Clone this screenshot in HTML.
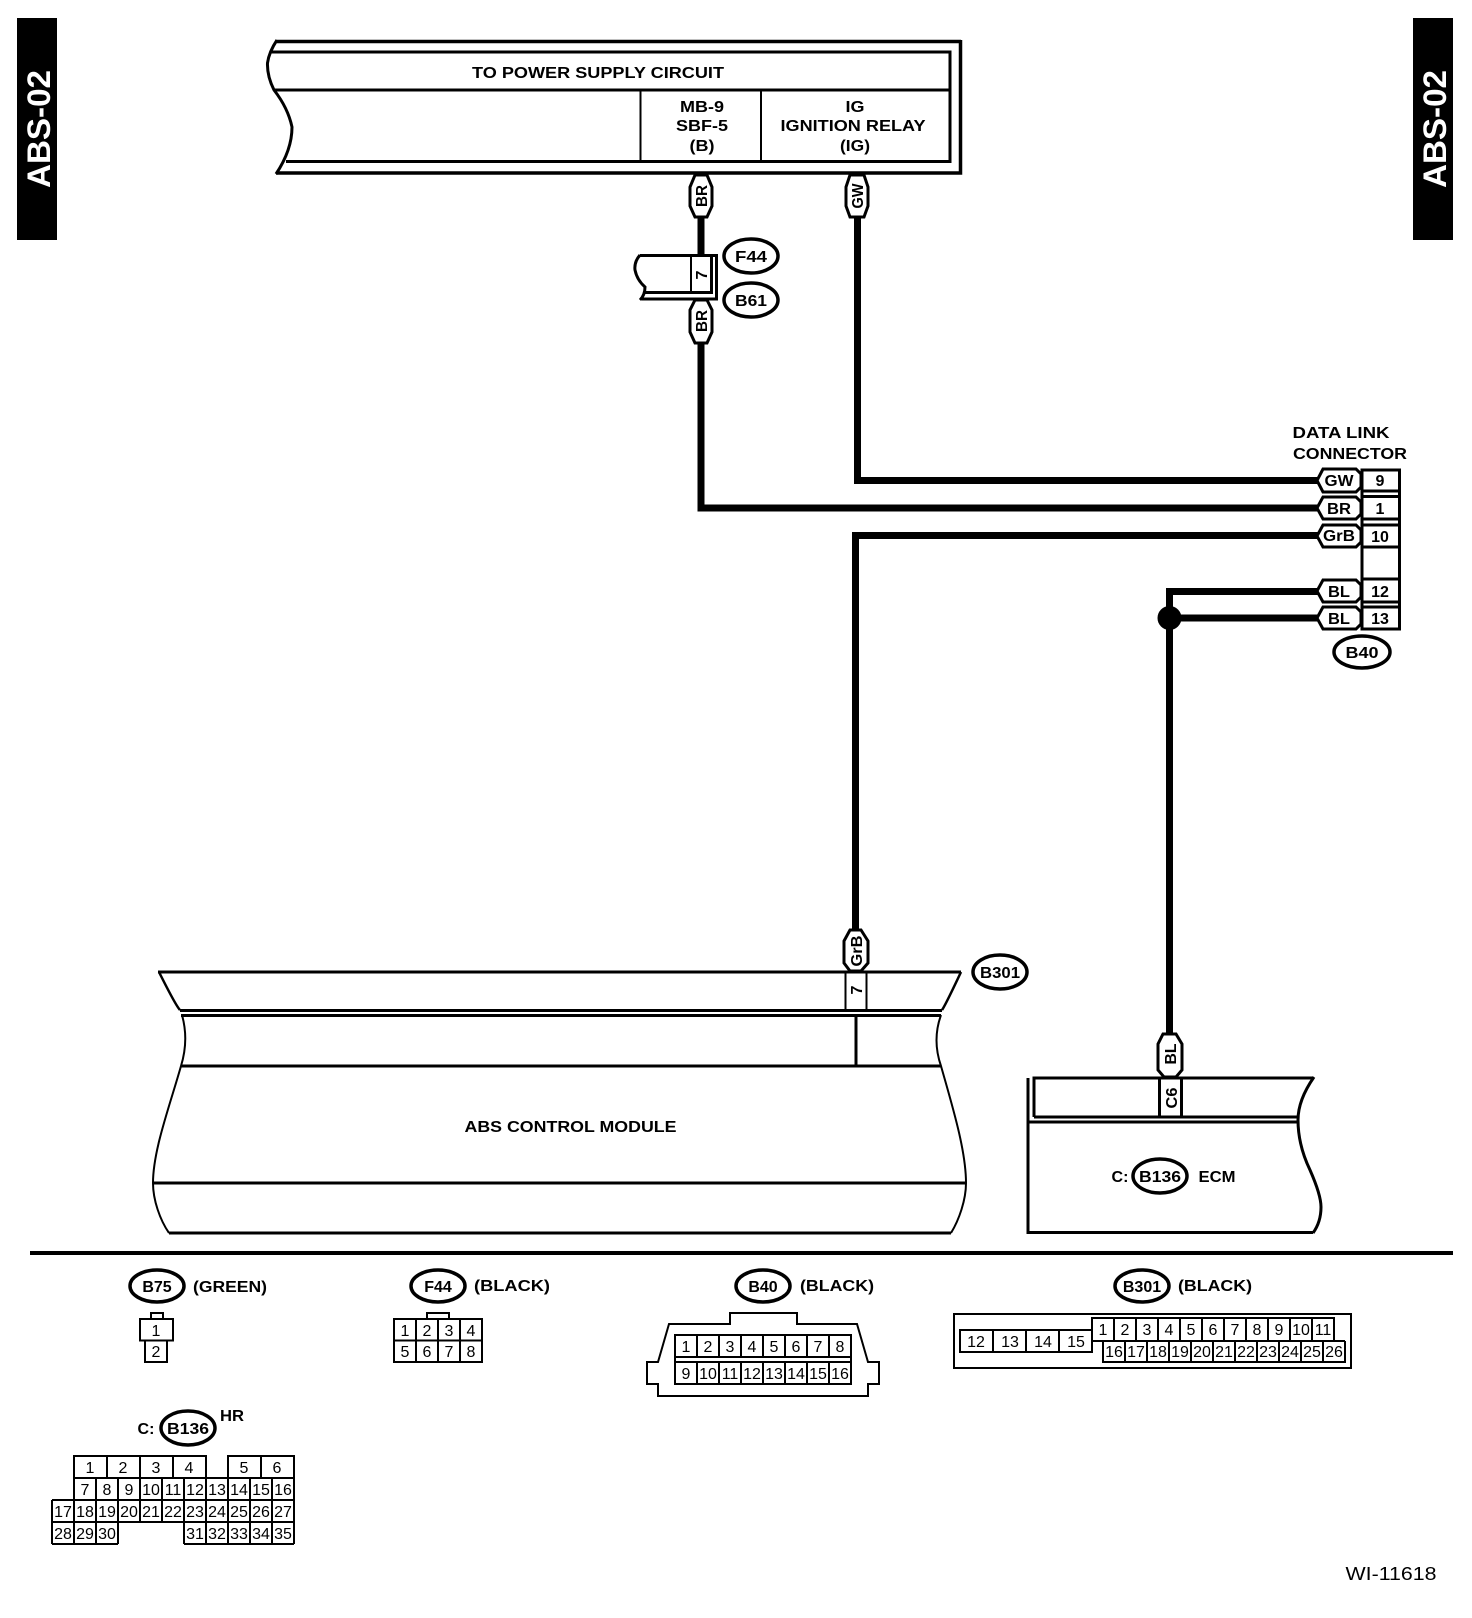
<!DOCTYPE html>
<html><head><meta charset="utf-8"><style>
html,body{margin:0;padding:0;background:#fff}
svg{display:block}
text{font-family:"Liberation Sans",sans-serif;fill:#000;text-anchor:middle}
.b{font-weight:bold;font-size:16px}
.n{font-size:16px}
.s{font-weight:bold;font-size:16px}
.l{fill:none;stroke:#000;stroke-width:3}
.w{fill:none;stroke:#000;stroke-width:7}
.t{fill:none;stroke:#000;stroke-width:2}
.p{fill:#fff;stroke:#000;stroke-width:3}
.o{fill:#fff;stroke:#000;stroke-width:3.5}
</style></head><body>
<svg width="1472" height="1618" viewBox="0 0 1472 1618" xmlns="http://www.w3.org/2000/svg">
<rect width="1472" height="1618" fill="#fff"/>
<rect x="17" y="18" width="40" height="222" fill="#000"/>
<rect x="1413" y="18" width="40" height="222" fill="#000"/>
<text transform="translate(50,129) rotate(-90)" font-size="32" font-weight="bold" style="fill:#fff" textLength="118" lengthAdjust="spacingAndGlyphs">ABS-02</text>
<text transform="translate(1446,129) rotate(-90)" font-size="32" font-weight="bold" style="fill:#fff" textLength="118" lengthAdjust="spacingAndGlyphs">ABS-02</text>

<!-- top box -->
<path class="l" d="M961 41.500H277" style="stroke-width:3.5"/>
<path class="l" d="M960.500 40V173H276" style="stroke-width:3.5"/>
<path class="l" d="M277 40Q269 52 267.500 63Q267 76 274 90Q288 108 292 127Q292 150 276 174"/>
<path class="l" d="M271 52H950V161.500H286"/>
<path class="l" d="M274 90H950"/>
<path class="t" d="M640.500 90V161M761 90V161"/>
<text class="b" x="598" y="78" textLength="252" lengthAdjust="spacingAndGlyphs">TO POWER SUPPLY CIRCUIT</text>
<text class="b" x="702" y="112" textLength="44" lengthAdjust="spacingAndGlyphs">MB-9</text>
<text class="b" x="702" y="131" textLength="52" lengthAdjust="spacingAndGlyphs">SBF-5</text>
<text class="b" x="702" y="151" textLength="25" lengthAdjust="spacingAndGlyphs">(B)</text>
<text class="b" x="855" y="112" textLength="19" lengthAdjust="spacingAndGlyphs">IG</text>
<text class="b" x="853" y="131" textLength="145" lengthAdjust="spacingAndGlyphs">IGNITION RELAY</text>
<text class="b" x="855" y="151" textLength="30" lengthAdjust="spacingAndGlyphs">(IG)</text>

<!-- wires -->
<path class="w" d="M701 218V256"/>
<path class="w" d="M701 342V508H1320"/>
<path class="w" d="M857.500 218V480.500H1320"/>
<path class="w" d="M855.500 932V535.500H1320"/>
<path class="w" d="M1320 591.500H1169.500V1036"/>
<path class="w" d="M1169.500 618H1320"/>
<circle cx="1169.500" cy="618" r="12" fill="#000"/>

<!-- vertical pills -->
<path class="p" d="M695 175H707L712 187V206L707 217H695L690 206V187Z"/>
<text class="s" transform="translate(701,196) rotate(-90)" y="6" textLength="22" lengthAdjust="spacingAndGlyphs">BR</text>
<path class="p" d="M850 175H864L868 187V206L864 217H850L846 206V187Z"/>
<text class="s" transform="translate(857,196) rotate(-90)" y="6" textLength="25" lengthAdjust="spacingAndGlyphs">GW</text>

<!-- F44/B61 connector -->
<path class="l" d="M640 255.500H716.500V299H642"/>
<path class="l" d="M640 255Q634 262 635 270Q637 280 645 287Q645 295 640 300"/>
<path class="l" d="M645 292.500H711.500V255"/>
<path class="t" d="M691 256V293"/>
<text class="s" transform="translate(701,275) rotate(-90)" y="6">7</text>
<path class="p" d="M695 300H707L712 310V332L707 343H695L690 332V310Z"/>
<text class="s" transform="translate(701,321) rotate(-90)" y="6" textLength="22" lengthAdjust="spacingAndGlyphs">BR</text>
<ellipse class="o" cx="751" cy="256" rx="27" ry="17"/>
<text class="b" x="751" y="262" textLength="32" lengthAdjust="spacingAndGlyphs">F44</text>
<ellipse class="o" cx="751" cy="300" rx="27" ry="17"/>
<text class="b" x="751" y="306" textLength="32" lengthAdjust="spacingAndGlyphs">B61</text>

<!-- DLC -->
<text class="b" x="1341" y="438" textLength="97" lengthAdjust="spacingAndGlyphs">DATA LINK</text>
<text class="b" x="1350" y="459" textLength="114" lengthAdjust="spacingAndGlyphs">CONNECTOR</text>
<path class="l" d="M1362 470H1399.500V629H1362Z"/>
<path class="l" d="M1362 491H1400M1362 496.500H1400M1362 519H1400M1362 525H1400M1362 547H1400M1362 579H1400M1362 602H1400M1362 607H1400"/>
<path class="p" d="M1323 469H1356L1361 474V487L1356 492H1323L1317 480.500Z"/>
<path class="p" d="M1323 497H1356L1361 502V514L1356 519H1323L1317 508Z"/>
<path class="p" d="M1323 525H1356L1361 530V542L1356 547H1323L1317 536Z"/>
<path class="p" d="M1323 580H1356L1361 585V597L1356 602H1323L1317 591Z"/>
<path class="p" d="M1323 607H1356L1361 612V624L1356 629H1323L1317 618Z"/>
<text class="s" x="1339" y="486" textLength="29" lengthAdjust="spacingAndGlyphs">GW</text>
<text class="s" x="1339" y="514" textLength="24" lengthAdjust="spacingAndGlyphs">BR</text>
<text class="s" x="1339" y="541" textLength="32" lengthAdjust="spacingAndGlyphs">GrB</text>
<text class="s" x="1339" y="597" textLength="22" lengthAdjust="spacingAndGlyphs">BL</text>
<text class="s" x="1339" y="624" textLength="22" lengthAdjust="spacingAndGlyphs">BL</text>
<text class="b" x="1380" y="486">9</text>
<text class="b" x="1380" y="514">1</text>
<text class="b" x="1380" y="542">10</text>
<text class="b" x="1380" y="597">12</text>
<text class="b" x="1380" y="624">13</text>
<ellipse class="o" cx="1362" cy="652" rx="28" ry="16"/>
<text class="b" x="1362" y="658" textLength="33" lengthAdjust="spacingAndGlyphs">B40</text>

<!-- ABS module -->
<path class="p" d="M850 930H861L868 941V963L861 971H850L844 963V941Z"/>
<text class="s" transform="translate(856,951) rotate(-90)" y="6" textLength="31" lengthAdjust="spacingAndGlyphs">GrB</text>
<path class="l" d="M158 972H961"/>
<path class="l" d="M180 1010.500H942M181 1015.500H941"/>
<path class="l" d="M159 972Q176 1006 180 1010M961 972Q945 1006 942 1010" style="stroke-width:2.5"/>
<path class="l" d="M181 1066H941M153 1183H966"/>
<path class="l" d="M169 1233H951" />
<path class="t" d="M845.500 972V1010M866.500 972V1010"/>
<path class="l" d="M856 1015V1066"/>
<text class="s" transform="translate(856,990) rotate(-90)" y="6">7</text>
<path class="t" d="M182 1015Q189 1040 181 1066C170 1105 153 1150 153 1183C153 1200 160 1220 169 1233"/>
<path class="t" d="M941 1015Q932 1040 941 1066C952 1105 966 1150 966 1183C966 1200 959 1220 951 1233"/>
<text class="b" x="570.500" y="1132" textLength="212" lengthAdjust="spacingAndGlyphs">ABS CONTROL MODULE</text>
<ellipse class="o" cx="1000" cy="972" rx="27" ry="17"/>
<text class="b" x="1000" y="978" textLength="40" lengthAdjust="spacingAndGlyphs">B301</text>

<!-- ECM -->
<path class="p" d="M1163 1034H1176L1182 1044V1070L1176 1077H1164L1158 1070V1044Z"/>
<text class="s" transform="translate(1170,1054) rotate(-90)" y="6" textLength="21" lengthAdjust="spacingAndGlyphs">BL</text>
<path class="l" d="M1034 1117V1078H1313"/>
<path class="l" d="M1034 1117H1298M1028 1122H1298"/>
<path class="l" d="M1159.500 1078V1117M1181.500 1078V1117"/>
<text class="s" transform="translate(1171,1098) rotate(-90)" y="6" textLength="21" lengthAdjust="spacingAndGlyphs">C6</text>
<path class="l" d="M1028 1078V1232.500H1313"/>
<path class="l" d="M1314 1077Q1298 1100 1298 1120Q1298 1145 1310 1170Q1321 1195 1321 1207Q1321 1222 1313 1233"/>
<text class="b" x="1120" y="1182">C:</text>
<ellipse class="o" cx="1160" cy="1176" rx="27" ry="17"/>
<text class="b" x="1160" y="1182" textLength="42" lengthAdjust="spacingAndGlyphs">B136</text>
<text class="b" x="1217" y="1182" textLength="37" lengthAdjust="spacingAndGlyphs">ECM</text>

<rect x="30" y="1251" width="1423" height="4" fill="#000"/>

<!-- B75 -->
<ellipse class="o" cx="157" cy="1286" rx="27" ry="16"/>
<text class="b" x="157" y="1292">B75</text>
<text class="b" x="230" y="1292" textLength="74" lengthAdjust="spacingAndGlyphs">(GREEN)</text>
<path class="t" d="M151 1319V1313H163V1319"/>
<rect class="t" x="140" y="1319" width="33" height="21.500"/>
<rect class="t" x="145" y="1340.500" width="22" height="21.500"/>
<text class="n" x="156" y="1336">1</text><text class="n" x="156" y="1357">2</text>

<!-- F44 -->
<ellipse class="o" cx="438" cy="1286" rx="27" ry="16"/>
<text class="b" x="438" y="1292">F44</text>
<text class="b" x="512" y="1291" textLength="76" lengthAdjust="spacingAndGlyphs">(BLACK)</text>
<path class="t" d="M427 1319V1313H449V1319"/>
<path class="t" d="M394 1319H482V1362H394ZM394 1340.500H482M416 1319V1362M438 1319V1362M460 1319V1362"/>
<text class="n" x="405" y="1336">1</text><text class="n" x="427" y="1336">2</text><text class="n" x="449" y="1336">3</text><text class="n" x="471" y="1336">4</text>
<text class="n" x="405" y="1357">5</text><text class="n" x="427" y="1357">6</text><text class="n" x="449" y="1357">7</text><text class="n" x="471" y="1357">8</text>

<!-- B40 -->
<ellipse class="o" cx="763" cy="1286" rx="27" ry="16"/>
<text class="b" x="763" y="1292">B40</text>
<text class="b" x="837" y="1291" textLength="74" lengthAdjust="spacingAndGlyphs">(BLACK)</text>
<path class="t" d="M730 1313H797V1324H857L868 1362H879V1384H868V1396H658V1384H647V1362H658L669 1324H730Z"/>
<path class="t" d="M675 1335H851V1384H675ZM675 1357H851M675 1362H851"/>
<path class="t" d="M697 1335V1357M719 1335V1357M741 1335V1357M763 1335V1357M785 1335V1357M807 1335V1357M829 1335V1357M697 1362V1384M719 1362V1384M741 1362V1384M763 1362V1384M785 1362V1384M807 1362V1384M829 1362V1384"/>
<text class="n" x="686" y="1352">1</text><text class="n" x="708" y="1352">2</text><text class="n" x="730" y="1352">3</text><text class="n" x="752" y="1352">4</text><text class="n" x="774" y="1352">5</text><text class="n" x="796" y="1352">6</text><text class="n" x="818" y="1352">7</text><text class="n" x="840" y="1352">8</text>
<text class="n" x="686" y="1379">9</text><text class="n" x="708" y="1379">10</text><text class="n" x="730" y="1379">11</text><text class="n" x="752" y="1379">12</text><text class="n" x="774" y="1379">13</text><text class="n" x="796" y="1379">14</text><text class="n" x="818" y="1379">15</text><text class="n" x="840" y="1379">16</text>

<!-- B301 -->
<ellipse class="o" cx="1142" cy="1286" rx="27" ry="16"/>
<text class="b" x="1142" y="1292">B301</text>
<text class="b" x="1215" y="1291" textLength="74" lengthAdjust="spacingAndGlyphs">(BLACK)</text>
<rect class="t" x="954" y="1314" width="397" height="54"/>
<rect x="960" y="1330" width="132" height="22" class="t"/>
<path class="t" d="M993 1330V1352M1026 1330V1352M1059 1330V1352"/>
<text class="n" x="976" y="1347">12</text><text class="n" x="1010" y="1347">13</text><text class="n" x="1043" y="1347">14</text><text class="n" x="1076" y="1347">15</text>
<path class="t" d="M1092 1341V1318H1334V1341M1092 1341H1345M1114 1318V1341M1136 1318V1341M1158 1318V1341M1180 1318V1341M1202 1318V1341M1224 1318V1341M1246 1318V1341M1268 1318V1341M1290 1318V1341M1312 1318V1341"/>
<path class="t" d="M1103 1341V1362H1345V1341M1125 1341V1362M1147 1341V1362M1169 1341V1362M1191 1341V1362M1213 1341V1362M1235 1341V1362M1257 1341V1362M1279 1341V1362M1301 1341V1362M1323 1341V1362"/>
<text class="n" x="1103" y="1335">1</text><text class="n" x="1125" y="1335">2</text><text class="n" x="1147" y="1335">3</text><text class="n" x="1169" y="1335">4</text><text class="n" x="1191" y="1335">5</text><text class="n" x="1213" y="1335">6</text><text class="n" x="1235" y="1335">7</text><text class="n" x="1257" y="1335">8</text><text class="n" x="1279" y="1335">9</text><text class="n" x="1301" y="1335">10</text><text class="n" x="1323" y="1335">11</text>
<text class="n" x="1114" y="1357">16</text><text class="n" x="1136" y="1357">17</text><text class="n" x="1158" y="1357">18</text><text class="n" x="1180" y="1357">19</text><text class="n" x="1202" y="1357">20</text><text class="n" x="1224" y="1357">21</text><text class="n" x="1246" y="1357">22</text><text class="n" x="1268" y="1357">23</text><text class="n" x="1290" y="1357">24</text><text class="n" x="1312" y="1357">25</text><text class="n" x="1334" y="1357">26</text>

<!-- B136 -->
<text class="b" x="146" y="1434">C:</text>
<ellipse class="o" cx="188" cy="1428" rx="27" ry="17"/>
<text class="b" x="188" y="1434" textLength="42" lengthAdjust="spacingAndGlyphs">B136</text>
<text class="s" x="232" y="1421" font-size="17" textLength="24" lengthAdjust="spacingAndGlyphs">HR</text>
<path class="t" d="M74 1478V1456H206V1478M228 1478V1456H294V1478M107 1456V1478M140 1456V1478M173 1456V1478M261 1456V1478"/>
<path class="t" d="M74 1478H294M52 1500H294M52 1522H294M52 1544H118M184 1544H294M294 1456V1544M52 1500V1544M74 1478V1544M96 1478V1544M118 1478V1544M140 1478V1522M162 1478V1522M184 1478V1544M206 1478V1544M228 1478V1544M250 1478V1544M272 1478V1544"/>
<text class="n" x="90" y="1473">1</text><text class="n" x="123" y="1473">2</text><text class="n" x="156" y="1473">3</text><text class="n" x="189" y="1473">4</text><text class="n" x="244" y="1473">5</text><text class="n" x="277" y="1473">6</text>
<text class="n" x="85" y="1495">7</text><text class="n" x="107" y="1495">8</text><text class="n" x="129" y="1495">9</text><text class="n" x="151" y="1495">10</text><text class="n" x="173" y="1495">11</text><text class="n" x="195" y="1495">12</text><text class="n" x="217" y="1495">13</text><text class="n" x="239" y="1495">14</text><text class="n" x="261" y="1495">15</text><text class="n" x="283" y="1495">16</text>
<text class="n" x="63" y="1517">17</text><text class="n" x="85" y="1517">18</text><text class="n" x="107" y="1517">19</text><text class="n" x="129" y="1517">20</text><text class="n" x="151" y="1517">21</text><text class="n" x="173" y="1517">22</text><text class="n" x="195" y="1517">23</text><text class="n" x="217" y="1517">24</text><text class="n" x="239" y="1517">25</text><text class="n" x="261" y="1517">26</text><text class="n" x="283" y="1517">27</text>
<text class="n" x="63" y="1539">28</text><text class="n" x="85" y="1539">29</text><text class="n" x="107" y="1539">30</text><text class="n" x="195" y="1539">31</text><text class="n" x="217" y="1539">32</text><text class="n" x="239" y="1539">33</text><text class="n" x="261" y="1539">34</text><text class="n" x="283" y="1539">35</text>

<text x="1391" y="1580" font-size="18" textLength="91" lengthAdjust="spacingAndGlyphs">WI-11618</text>
</svg>
</body></html>
